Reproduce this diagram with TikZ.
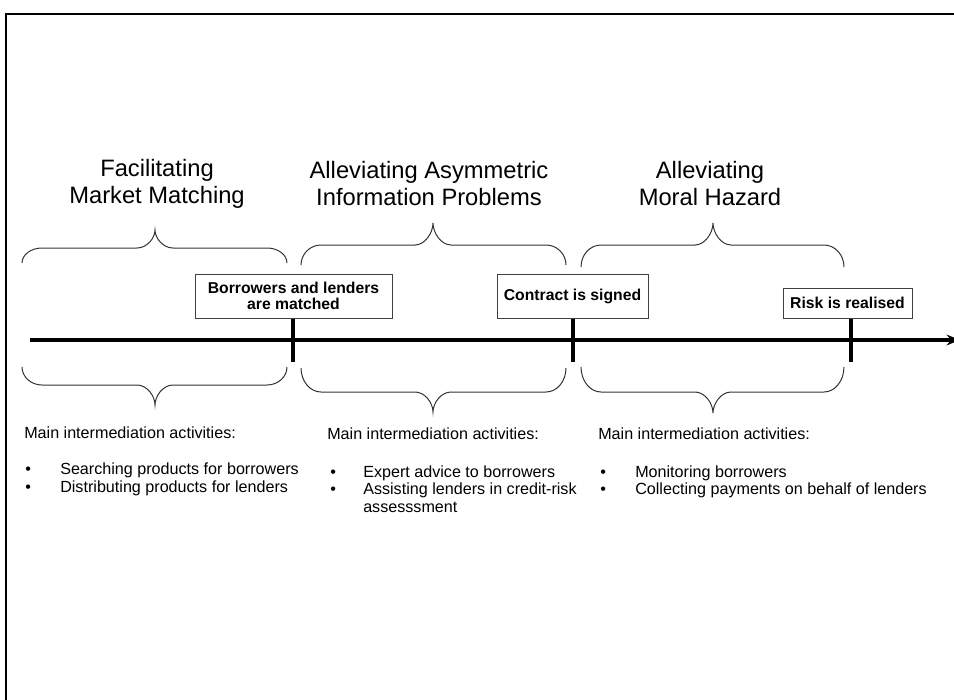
\documentclass[tikz,border=0pt]{standalone}
\usepackage{fontspec}
\setmainfont{Liberation Sans}
\usetikzlibrary{arrows.meta}

\tikzset{
  event/.style={draw=black!75, line width=0.75pt, fill=white, align=center,
    inner sep=0pt, font=\fontsize{11.8pt}{12pt}\selectfont\bfseries},
  phase/.style={align=center, inner sep=0pt,
    font=\fontsize{17.8pt}{19.9pt}\selectfont},
  actitem/.style={anchor=base west, inner sep=0pt,
    font=\fontsize{12.1pt}{13.5pt}\selectfont},
  bracket/.style={line width=0.75pt, black!80},
  axis/.style={line width=3pt},
}

% x left, x middle, x right, y of the ends, y of the bar, y of the tip
\newcommand{\phasebrace}[6]{%
  \draw[bracket] (#1,#4) .. controls (#1,{#5+0.45*(#4-#5)}) and ({#1+9},#5) .. ({#1+20},#5)
    -- ({#2-18},#5) .. controls ({#2-8},#5) and (#2,{#6+0.45*(#5-#6)}) .. (#2,#6)
    .. controls (#2,{#6+0.45*(#5-#6)}) and ({#2+8},#5) .. ({#2+18},#5)
    -- ({#3-20},#5) .. controls ({#3-9},#5) and (#3,{#5+0.45*(#4-#5)}) .. (#3,#4);}

\begin{document}
\begin{tikzpicture}[x=0.75pt, y=-0.75pt]
  \useasboundingbox (0,0) rectangle (954,700);
  \draw[line width=1.5pt] (6,706) -- (6,14) -- (960,14);

  % phases
  \node[phase, anchor=base] (ph1) at (157,203) {Facilitating\\Market Matching};
  \node[phase, anchor=base] (ph2) at (429,205) {Alleviating Asymmetric\\Information Problems};
  \node[phase, anchor=base] (ph3) at (710,205) {Alleviating\\Moral Hazard};

  \foreach \xa/\xm/\xb/\ye/\yb/\yt in {22/155/287/263/248/230, 301/433/566/265/245/223,
      581/713/844/267/245/223, 22/155/287/367/385/405, 301/433/566/368/392/412,
      581/713/844/367/392/413} {
    \phasebrace{\xa}{\xm}{\xb}{\ye}{\yb}{\yt}
  }

  % time line
  \coordinate (start) at (30,340);
  \coordinate (end) at (960,340);
  \draw[axis, -{Stealth[length=10pt, width=8pt]}] (start) -- (end);

  \node[event, minimum width=147.75pt, minimum height=33pt] (box1) at (293.5,296)
    {Borrowers and lenders\\are matched};
  \node[event, minimum width=113.25pt, minimum height=33pt] (box2) at (572.5,296)
    {Contract is signed};
  \node[event, minimum width=96.75pt, minimum height=22.5pt] (box3) at (847.5,303)
    {Risk is realised};

  \coordinate (t1) at (293,362);
  \coordinate (t2) at (573,362);
  \coordinate (t3) at (851,362);
  \foreach \i in {1,2,3}
    \draw[axis] (t\i |- box\i.south) -- (t\i);

  % activities
  \node[actitem] (head1) at (24,438) {Main intermediation activities:};
  \node[actitem] (head2) at (327,439) {Main intermediation activities:};
  \node[actitem] (head3) at (598,439) {Main intermediation activities:};

  \foreach \y/\txt [count=\i] in {474/Searching products for borrowers,
      492/Distributing products for lenders} {
    \node[actitem] (dot1\i) at (25,\y) {\textbullet};
    \node[actitem] (item1\i) at (60,\y) {\txt};
  }
  \foreach \y/\txt [count=\i] in {477/Expert advice to borrowers,
      494.5/Assisting lenders in credit-risk} {
    \node[actitem] (dot2\i) at (330,\y) {\textbullet};
    \node[actitem] (item2\i) at (363,\y) {\txt};
  }
  \node[actitem] (item23) at (363,512) {assesssment};
  \foreach \y/\txt [count=\i] in {477/Monitoring borrowers,
      494/Collecting payments on behalf of lenders} {
    \node[actitem] (dot3\i) at (600,\y) {\textbullet};
    \node[actitem] (item3\i) at (635,\y) {\txt};
  }
\end{tikzpicture}
\end{document}
